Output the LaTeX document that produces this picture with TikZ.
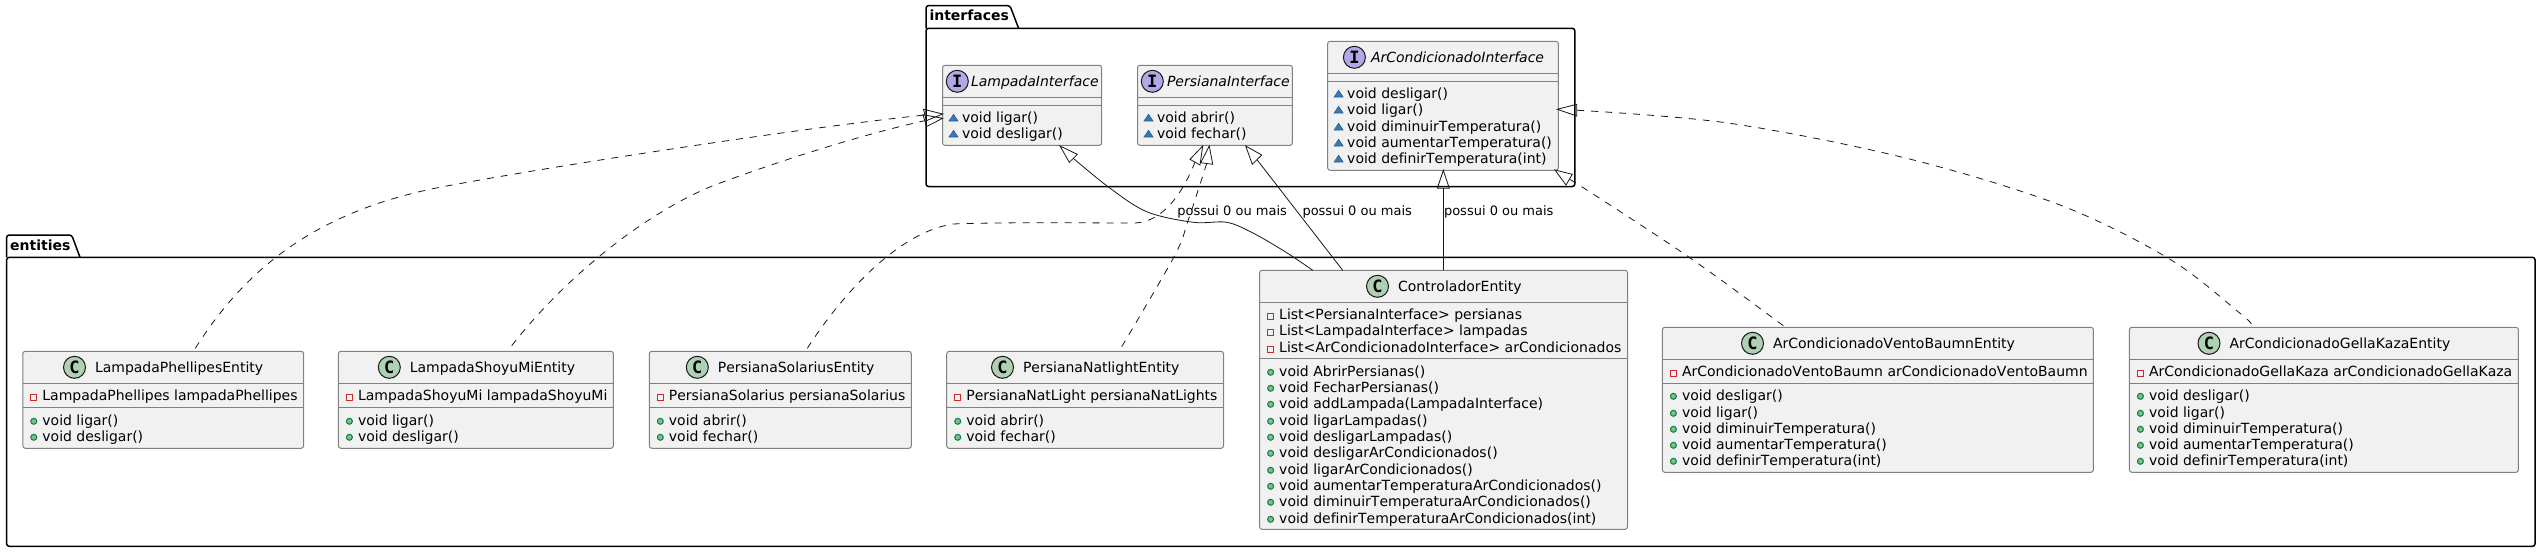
\documentclass[tikz,border=0pt]{standalone}
\usepackage{fontspec}
\setmainfont[Kerning=Off,Ligatures=NoCommon]{DejaVu Sans}
\newfontfamily\spotfont[Kerning=Off]{DejaVu Sans Mono}
\usetikzlibrary{calc}
\definecolor{boxfill}{HTML}{F1F1F1}
\definecolor{boxline}{HTML}{808080}
\definecolor{inkline}{HTML}{181818}
\definecolor{spotc}{HTML}{ADD1B2}
\definecolor{spoti}{HTML}{B4A7E5}
\definecolor{publine}{HTML}{038048}
\definecolor{pubfill}{HTML}{84BE84}
\definecolor{privline}{HTML}{C82930}
\definecolor{pkgline}{HTML}{1963A0}
\definecolor{pkgfill}{HTML}{4177AF}
\newcounter{tn}
\tikzset{
  x=1pt,y=-1pt,
  pkgframe/.style={draw=black,line width=1.5pt,rounded corners=2.5pt},
  umlbox/.style={draw=boxline,fill=boxfill,line width=1pt,rounded corners=2.5pt,inner sep=0pt,outer sep=0pt,rectangle},
  sepline/.style={draw=boxline,line width=1pt},
  txt/.style={inner sep=0pt,outer sep=0pt,anchor=base west,font=\fontsize{14}{16}\selectfont,text=black},
  itxt/.style={txt,font=\fontsize{14}{16}\selectfont\itshape},
  pkgtxt/.style={txt,font=\fontsize{14}{16}\selectfont\bfseries},
  lbl/.style={txt,font=\fontsize{13}{15}\selectfont},
  spot/.style={circle,draw=inkline,line width=1pt,minimum size=22pt,inner sep=0pt,outer sep=0pt,font=\fontsize{17}{17}\selectfont\spotfont\bfseries,text=black},
  dep/.style={draw=inkline,line width=.8pt,dash pattern=on 7pt off 7pt},
  assoc/.style={draw=inkline,line width=.8pt},
  head/.style={draw=inkline,line width=.8pt,line join=miter},
}
% name x1 y1 x2 y2 sep1 sep2
\newcommand{\umlnode}[7]{%
  \node[umlbox,minimum width={(#4-#2)*1pt},minimum height={(#5-#3)*1pt}] (#1) at ({(#2+#4)/2},{(#3+#5)/2}) {};
  \draw[sepline] (#2,#6) -- (#4,#6);
  \draw[sepline] (#2,#7) -- (#4,#7);
}
\newcommand{\ctitle}[4]{% name circlex cy text
  \node[spot,fill=spotc] (#1c) at (#2,#3) {C};
  \node[txt] (#1t) at (#2+20.5,#3+5) {#4};
}
\newcommand{\ititle}[5]{% name circlex cy textx text
  \node[spot,fill=spoti] (#1c) at (#2,#3) {I};
  \node[itxt] (#1t) at (#4,#3+5) {#5};
}
\newcommand{\mtext}[3]{\stepcounter{tn}\node[txt] (m\arabic{tn}) at (#1,#2) {#3};}
\newcommand{\pubm}[3]{% left baseline text
  \draw[publine,fill=pubfill,line width=1pt] (#1+11,#2-3.7) circle[radius=3pt];
  \mtext{#1+19.6}{#2}{#3}}
\newcommand{\privm}[3]{%
  \draw[privline,line width=1pt] (#1+8,#2-5.7) rectangle (#1+14,#2+.3);
  \mtext{#1+19.6}{#2}{#3}}
\newcommand{\pkgm}[3]{%
  \fill[pkgfill,draw=pkgline,line width=.6pt] (#1+6.5,#2-1) -- (#1+15.5,#2-1) -- (#1+11,#2-7.7) -- cycle;
  \mtext{#1+19.6}{#2}{#3}}
\newcommand{\hhead}[3]{\draw[head] (#1) -- (#2) -- (#3) -- cycle;}
\begin{document}
\begin{tikzpicture}
\useasboundingbox[fill=white] (0,0) rectangle (2541,552);
% packages
\draw[pkgframe] (926,28.3) -- (926,5.7) -- (1010,5.7) -- (1018.6,28.3);
\draw[pkgframe] (926,28.3) rectangle (1574.8,186.5);
\node[pkgtxt] (pkgi) at (929.5,20.7) {interfaces};
\draw[pkgframe] (6.7,257.3) -- (6.7,235) -- (71.7,235) -- (80,257.3);
\draw[pkgframe] (6.7,257.3) rectangle (2535,546.3);
\node[pkgtxt] (pkge) at (10.2,250) {entities};
% interfaces
\umlnode{lpi}{942.5}{65.3}{1101.7}{145.3}{97.3}{105.3}
\ititle{lpi}{957.3}{81.3}{971}{LampadaInterface}
\pkgm{942.5}{122}{void ligar()}
\pkgm{942.5}{138}{void desligar()}
\umlnode{pni}{1137.5}{65.3}{1292.4}{145.3}{97.3}{105.3}
\ititle{pni}{1152.3}{81.3}{1167}{PersianaInterface}
\pkgm{1137.5}{122}{void abrir()}
\pkgm{1137.5}{138}{void fechar()}
\umlnode{aci}{1327.6}{41.3}{1558.3}{170.3}{73.3}{81.3}
\ititle{aci}{1354.4}{57.3}{1371}{ArCondicionadoInterface}
\pkgm{1327.6}{98}{void desligar()}
\pkgm{1327.6}{114}{void ligar()}
\pkgm{1327.6}{131}{void diminuirTemperatura()}
\pkgm{1327.6}{147}{void aumentarTemperatura()}
\pkgm{1327.6}{163}{void definirTemperatura(int)}
% entities
\umlnode{lpe}{22.8}{351.3}{303.6}{448.3}{383.3}{407.3}
\ctitle{lpe}{74.5}{367.3}{LampadaPhellipesEntity}
\privm{22.8}{400}{LampadaPhellipes lampadaPhellipes}
\pubm{22.8}{425}{void ligar()}
\pubm{22.8}{441}{void desligar()}
\umlnode{lse}{338.4}{351.3}{613.4}{448.3}{383.3}{407.3}
\ctitle{lse}{389.3}{367.3}{LampadaShoyuMiEntity}
\privm{338.4}{400}{LampadaShoyuMi lampadaShoyuMi}
\pubm{338.4}{425}{void ligar()}
\pubm{338.4}{441}{void desligar()}
\umlnode{pse}{649.3}{351.3}{911.3}{448.3}{383.3}{407.3}
\ctitle{pse}{697.3}{367.3}{PersianaSolariusEntity}
\privm{649.3}{400}{PersianaSolarius persianaSolarius}
\pubm{649.3}{425}{void abrir()}
\pubm{649.3}{441}{void fechar()}
\umlnode{pne}{946.7}{351.3}{1223.5}{448.3}{383.3}{407.3}
\ctitle{pne}{1002.5}{367.3}{PersianaNatlightEntity}
\privm{946.7}{400}{PersianaNatLight persianaNatLights}
\pubm{946.7}{425}{void abrir()}
\pubm{946.7}{441}{void fechar()}
\umlnode{cte}{1259.6}{270.3}{1627.5}{529.3}{302.3}{358.3}
\ctitle{cte}{1377.5}{286.3}{ControladorEntity}
\privm{1259.6}{319}{List<PersianaInterface> persianas}
\privm{1259.6}{335}{List<LampadaInterface> lampadas}
\privm{1259.6}{352}{List<ArCondicionadoInterface> arCondicionados}
\pubm{1259.6}{376}{void AbrirPersianas()}
\pubm{1259.6}{392}{void FecharPersianas()}
\pubm{1259.6}{408}{void addLampada(LampadaInterface)}
\pubm{1259.6}{425}{void ligarLampadas()}
\pubm{1259.6}{441}{void desligarLampadas()}
\pubm{1259.6}{457}{void desligarArCondicionados()}
\pubm{1259.6}{474}{void ligarArCondicionados()}
\pubm{1259.6}{490}{void aumentarTemperaturaArCondicionados()}
\pubm{1259.6}{506}{void diminuirTemperaturaArCondicionados()}
\pubm{1259.6}{523}{void definirTemperaturaArCondicionados(int)}
\umlnode{vbe}{1662.4}{327.3}{2093.4}{472.3}{359.3}{383.3}
\ctitle{vbe}{1752.5}{343.3}{ArCondicionadoVentoBaumnEntity}
\privm{1662.4}{376}{ArCondicionadoVentoBaumn arCondicionadoVentoBaumn}
\pubm{1662.4}{400}{void desligar()}
\pubm{1662.4}{417}{void ligar()}
\pubm{1662.4}{433}{void diminuirTemperatura()}
\pubm{1662.4}{449}{void aumentarTemperatura()}
\pubm{1662.4}{465}{void definirTemperatura(int)}
\umlnode{gke}{2129.4}{327.3}{2518.4}{472.3}{359.3}{383.3}
\ctitle{gke}{2209}{343.3}{ArCondicionadoGellaKazaEntity}
\privm{2129.4}{376}{ArCondicionadoGellaKaza arCondicionadoGellaKaza}
\pubm{2129.4}{400}{void desligar()}
\pubm{2129.4}{417}{void ligar()}
\pubm{2129.4}{433}{void diminuirTemperatura()}
\pubm{2129.4}{449}{void aumentarTemperatura()}
\pubm{2129.4}{465}{void definirTemperatura(int)}
% connector ends, taken from the nodes
\coordinate (e1a) at ($(lpe.north west)+(172.5,-3)$);
\coordinate (e1t) at ($(lpi.north west)+(.2,48.7)$);
\coordinate (e2a) at ($(lse.north west)+(173.3,-5.6)$);
\coordinate (e2t) at ($(lpi.north west)+(.2,53)$);
\coordinate (e3a) at ($(pse.north west)+(158,-3)$);
\coordinate (e3t) at ($(pni.south west)+(65.2,.7)$);
\coordinate (e4a) at ($(pne.north west)+(175,-4.6)$);
\coordinate (e4t) at ($(pni.south west)+(71.8,.7)$);
\coordinate (e5a) at ($(cte.north west)+(53.1,0)$);
\coordinate (e5t) at ($(lpi.south west)+(117.5,.7)$);
\coordinate (e6a) at ($(cte.north west)+(83.1,0)$);
\coordinate (e6t) at ($(pni.south west)+(108.2,.7)$);
\coordinate (e7a) at ($(cte.north west)+(183.7,0)$);
\coordinate (e7t) at ($(aci.south west)+(115.7,0)$);
\coordinate (e8a) at ($(vbe.north west)+(120.9,-1.6)$);
\coordinate (e8t) at ($(aci.south east)+(-3.3,-.3)$);
\coordinate (e9a) at ($(gke.north west)+(121.9,-3.3)$);
\coordinate (e9t) at ($(aci.north east)+(-1,68)$);
% dependency connectors
\draw[dep] (e1a) .. controls (245,270) and (315,210) .. (446.7,186) .. controls (560,165) and (800,128) .. (925,115);
\hhead{e1t}{923.5,109.3}{926.3,120.7}
\draw[dep] (e2a) .. controls (575,265) and (660,205) .. (720,183) .. controls (780,161) and (860,135) .. (924.7,120.7);
\hhead{e2t}{923,114.7}{926.5,126.5}
\draw[dep] (e3a) .. controls (845,290) and (900,232) .. (953,224) .. controls (1000,222) and (1090,223) .. (1135,223) .. controls (1165,222) and (1185,188) .. (1195,162);
\hhead{e3t}{1190,159.3}{1200,165}
\draw[dep] plot[smooth,tension=.55] coordinates {(e4a) (1174.4,256) (1188.3,220) (1206.7,163.5)};
\hhead{e4t}{1200.7,162.7}{1212.7,164.3}
\draw[dep] plot[smooth,tension=.55] coordinates {(e8a) (1688.3,256.7) (1581.7,186.7) (1569,180)};
\hhead{e8t}{1572.3,174.3}{1566,185}
\draw[dep] plot[smooth,tension=.55] coordinates {(e9a) (2240,313.3) (2170,259.3) (2060,205) (1906.7,158.3) (1730,123.3) (1576.7,110.2)};
\hhead{e9t}{1576.7,104.3}{1576.7,116}
% association connectors
\draw[assoc] plot[smooth,tension=.55] coordinates {(e5a) (1286.7,252.7) (1253,233) (1226.7,222.3) (1193.3,222.3) (1146.7,211.7) (1108,186.7) (1073.3,158.3)};
\hhead{e5t}{1069.3,162.3}{1077.3,154.3}
\draw[assoc] (e6a) -- (1257,159.7);
\hhead{e6t}{1252.3,164.3}{1261.7,155}
\draw[assoc] (e7a) -- (1443.3,188.3);
\hhead{e7t}{1437.3,188.3}{1449.3,188.3}
\node[lbl] (l1) at (1177.4,215) {possui 0 ou mais};
\node[lbl] (l2) at (1302.5,215) {possui 0 ou mais};
\node[lbl] (l3) at (1444,215) {possui 0 ou mais};
\end{tikzpicture}
\end{document}
